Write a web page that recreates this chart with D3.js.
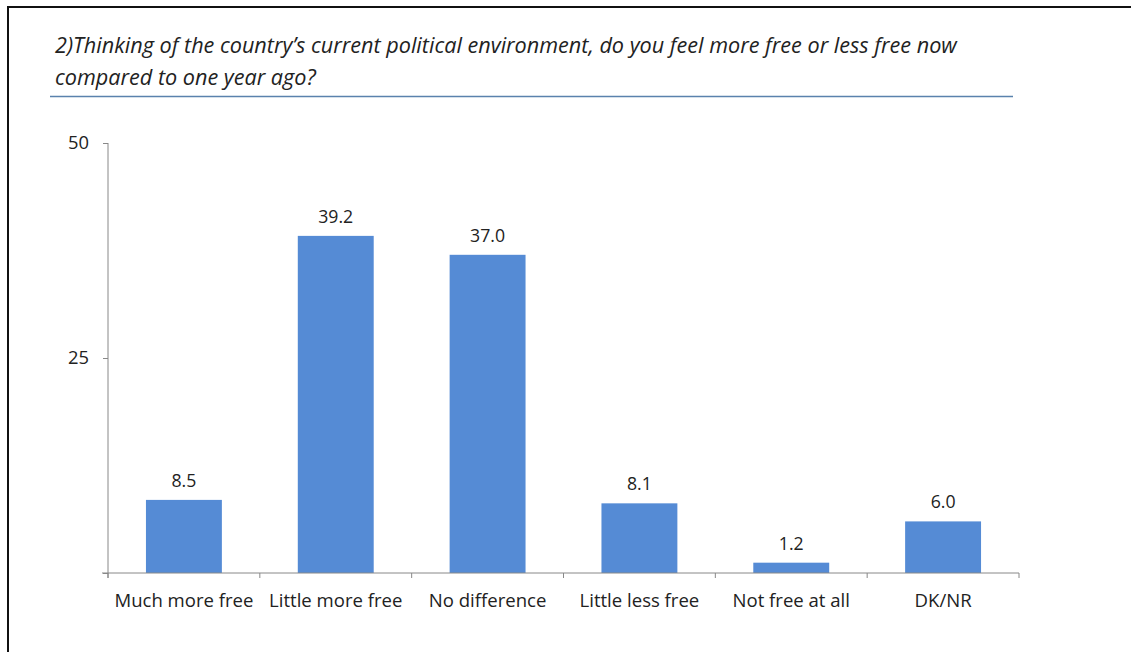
<!DOCTYPE html>
<html>
<head>
<meta charset="utf-8">
<script src="https://cdn.jsdelivr.net/npm/d3@7"></script>
<style>
  html, body { margin: 0; padding: 0; background: #fff; }
  svg { display: block; }
</style>
</head>
<body>
<svg id="chart" width="1131" height="652"></svg>
<script>
const categories = ["Much more free", "Little more free", "No difference", "Little less free", "Not free at all", "DK/NR"];
const values = [8.5, 39.2, 37.0, 8.1, 1.2, 6.0];
const yTicks = [0, 25, 50];
const titleLines = [
  "2)Thinking of the country\u2019s current political environment, do you feel more free or less free now",
  "compared to one year ago?"
];

const svg = d3.select("#chart");
const font = "'Open Sans', Lato, sans-serif";

// size a text selection so that a reference node reaches a target width
function fitSize(sel, refNode, target, start) {
  sel.attr("font-size", start);
  const w = refNode.getComputedTextLength();
  const size = start * target / w;
  sel.attr("font-size", size);
  return size;
}

// outer border
svg.append("rect")
  .attr("x", 8).attr("y", 7)
  .attr("width", 1140).attr("height", 660)
  .attr("fill", "none").attr("stroke", "#111").attr("stroke-width", 2);

// title
const title = svg.append("g").selectAll("text").data(titleLines).join("text")
  .attr("x", 55)
  .attr("y", (d, i) => 53 + i * 32)
  .attr("font-family", font)
  .attr("font-style", "italic")
  .attr("fill", "#222")
  .text(d => d);
fitSize(title, title.nodes()[0], 902, 18);

svg.append("line")
  .attr("x1", 50).attr("x2", 1013)
  .attr("y1", 96.5).attr("y2", 96.5)
  .attr("stroke", "#5a82ad").attr("stroke-width", 1.5);

const x = d3.scaleBand().domain(categories).range([108, 1019]).paddingInner(0.5).paddingOuter(0.25);
const y = d3.scaleLinear().domain([0, 50]).range([573, 143]);

// bars
svg.append("g").selectAll("rect").data(values).join("rect")
  .attr("x", (d, i) => x(categories[i]))
  .attr("y", d => y(d))
  .attr("width", x.bandwidth())
  .attr("height", d => y(0) - y(d))
  .attr("fill", "#558bd5");

// value labels
const vlab = svg.append("g").selectAll("text").data(values).join("text")
  .attr("x", (d, i) => x(categories[i]) + x.bandwidth() / 2)
  .attr("y", d => y(d) - 13)
  .attr("text-anchor", "middle")
  .attr("font-family", font)
  .attr("fill", "#222")
  .text(d => d.toFixed(1));
fitSize(vlab, vlab.nodes()[1], 35, 16);

// y axis
const yAxis = d3.axisLeft(y).tickValues(yTicks).tickSize(5).tickSizeOuter(0)
  .tickFormat(d => d === 0 ? "" : d);
const gy = svg.append("g").attr("transform", "translate(108,0)").call(yAxis);
gy.select(".domain").attr("stroke", "#888").attr("d", "M0,143V578");
gy.selectAll(".tick line").attr("stroke", "#888");
const ylab = gy.selectAll(".tick text").attr("font-family", font).attr("fill", "#222").attr("x", -19);
fitSize(ylab, ylab.nodes()[2], 21, 16);

// x axis
const gx = svg.append("g").attr("transform", "translate(0,573)");
gx.append("line").attr("x1", 102).attr("x2", 1019).attr("y1", 0).attr("y2", 0).attr("stroke", "#888");
const boundaries = d3.range(categories.length + 1).map(i => 108 + i * (1019 - 108) / categories.length);
gx.selectAll("line.tk").data(boundaries).join("line").attr("class", "tk")
  .attr("x1", d => d).attr("x2", d => d).attr("y1", 0).attr("y2", 5).attr("stroke", "#888");
const xlab = gx.selectAll("text").data(categories).join("text")
  .attr("x", d => x(d) + x.bandwidth() / 2)
  .attr("y", 34)
  .attr("text-anchor", "middle")
  .attr("font-family", font)
  .attr("fill", "#222")
  .text(d => d);
fitSize(xlab, xlab.nodes()[0], 139, 16);
</script>
</body>
</html>
